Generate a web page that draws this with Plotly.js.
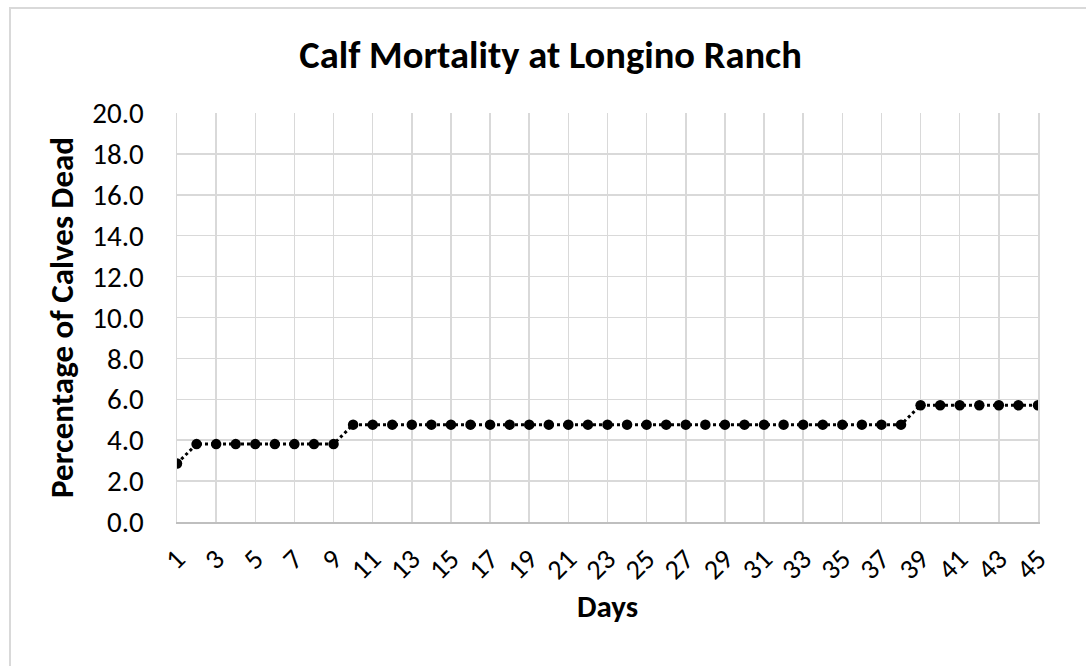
<!DOCTYPE html>
<html>
<head>
<meta charset="utf-8">
<script src="https://cdn.plot.ly/plotly-3.0.1.min.js"></script>
<style>
  html, body { margin: 0; padding: 0; background: #fff; overflow: hidden; }
  #frame { position: absolute; left: 9px; top: 7px; width: 2000px; height: 2000px; border: 2px solid #d9d9d9; box-sizing: border-box; }
  #chart { position: absolute; left: 0; top: 0; width: 1086px; height: 666px; }
</style>
</head>
<body>
<div id="frame"></div>
<div id="chart"></div>
<script>
const days = [1,2,3,4,5,6,7,8,9,10,11,12,13,14,15,16,17,18,19,20,21,22,23,24,25,26,27,28,29,30,31,32,33,34,35,36,37,38,39,40,41,42,43,44,45];
const pctDead = [2.86,3.81,3.81,3.81,3.81,3.81,3.81,3.81,3.81,
  4.76,4.76,4.76,4.76,4.76,4.76,4.76,4.76,4.76,4.76,4.76,4.76,4.76,4.76,4.76,4.76,4.76,4.76,4.76,4.76,4.76,4.76,4.76,4.76,4.76,4.76,4.76,4.76,4.76,
  5.71,5.71,5.71,5.71,5.71,5.71,5.71];
const xTickVals = [1,3,5,7,9,11,13,15,17,19,21,23,25,27,29,31,33,35,37,39,41,43,45];
const xTickText = xTickVals.map(String);
const yTickVals = [0,2,4,6,8,10,12,14,16,18,20];
const yTickText = yTickVals.map(v => v.toFixed(1));

const font = 'Carlito, Calibri, Lato, "Open Sans", sans-serif';

const trace = {
  x: days, y: pctDead, type: 'scatter', mode: 'lines+markers',
  line: { color: '#000', width: 3, dash: 'dot' },
  marker: { color: '#000', size: 10.5, symbol: 'circle' },
  hoverinfo: 'x+y'
};

const layout = {
  width: 1086, height: 666,
  paper_bgcolor: 'rgba(0,0,0,0)', plot_bgcolor: 'rgba(0,0,0,0)',
  margin: { l: 177, r: 48, t: 113, b: 144 },
  showlegend: false,
  title: { text: '<b>Calf Mortality at Longino Ranch</b>', x: 0.507, xanchor: 'center', y: 0.918, yanchor: 'middle',
           font: { family: font, size: 38.5, color: '#000' } },
  xaxis: {
    range: [1, 45], tickmode: 'array', tickvals: xTickVals, ticktext: xTickText, tickangle: -45,
    showgrid: true, gridcolor: '#d9d9d9', gridwidth: 1.5, automargin: false,
    showline: true, linecolor: '#bfbfbf', linewidth: 1.5, zeroline: false, ticks: '',
    ticklabelstandoff: 8,
    tickfont: { family: font, size: 28, color: '#000' },
    title: { text: '<b>Days</b>', font: { family: font, size: 31, color: '#000' }, standoff: 6 }
  },
  yaxis: {
    range: [0, 20], tickmode: 'array', tickvals: yTickVals, ticktext: yTickText,
    showgrid: true, gridcolor: '#d9d9d9', gridwidth: 1.5, automargin: false,
    showline: true, linecolor: '#d9d9d9', linewidth: 1.5, mirror: true, zeroline: false, ticks: '',
    ticklabelstandoff: 26,
    tickfont: { family: font, size: 29, color: '#000' },
    title: { text: '<b>Percentage of Calves Dead</b>', font: { family: font, size: 33, color: '#000' }, standoff: 8 }
  }
};

Plotly.newPlot('chart', [trace], layout, { displayModeBar: false, staticPlot: true });
</script>
</body>
</html>
